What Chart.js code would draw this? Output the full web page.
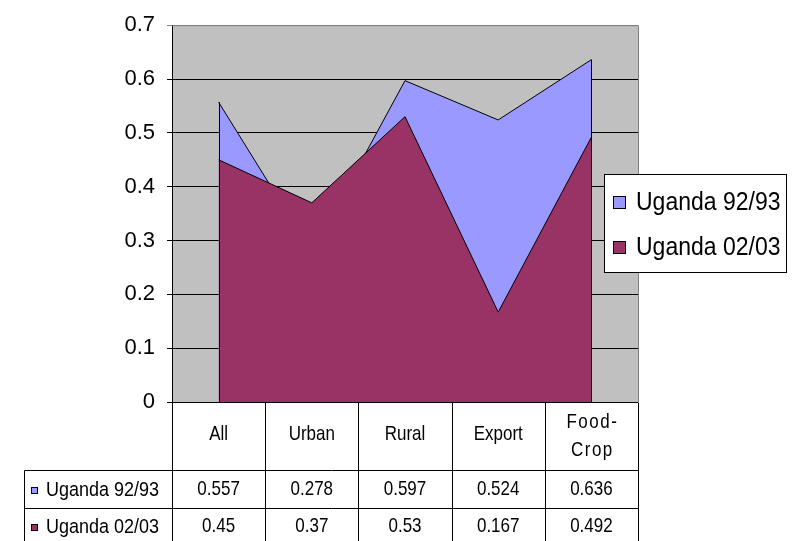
<!DOCTYPE html>
<html>
<head>
<meta charset="utf-8">
<script src="https://cdn.jsdelivr.net/npm/chart.js@4.4.1/dist/chart.umd.min.js"></script>
<style>
  body { margin: 0; background: #fff; }
</style>
</head>
<body>
<canvas id="myChart" width="792" height="541"></canvas>
<script>
const categories = ['All', 'Urban', 'Rural', 'Export', ['Food-', 'Crop']];
const uganda9293 = [0.557, 0.278, 0.597, 0.524, 0.636];
const uganda0203 = [0.45, 0.37, 0.53, 0.167, 0.492];
const seriesNames = ['Uganda 92/93', 'Uganda 02/03'];
const yMin = 0, yMax = 0.7, yStep = 0.1;

const COLORS = {
  blue: '#9999FF',
  maroon: '#993366',
  plot: '#C0C0C0',
  frame: '#808080'
};
const FONT = "'Liberation Sans', Arial, sans-serif";

// excel text comes out a bit taller than it is wide
function tallText(ctx, txt, x, y, stretch) {
  ctx.save();
  ctx.translate(x, y);
  ctx.scale(1, stretch || 1.15);
  ctx.fillText(txt, 0, 0);
  ctx.restore();
}

// grey plot background + grey top/right frame
const plotBg = {
  id: 'plotBg',
  beforeDraw(chart) {
    const ctx = chart.ctx, a = chart.chartArea;
    ctx.save();
    ctx.fillStyle = COLORS.plot;
    ctx.fillRect(a.left, a.top, a.right - a.left, a.bottom - a.top);
    ctx.restore();
  },
  beforeDatasetsDraw(chart) {
    const ctx = chart.ctx, a = chart.chartArea;
    ctx.save();
    ctx.strokeStyle = COLORS.frame;
    ctx.lineWidth = 1;
    ctx.beginPath();
    ctx.moveTo(a.left, a.top + 0.5);
    ctx.lineTo(a.right + 0.5, a.top + 0.5);
    ctx.lineTo(a.right + 0.5, a.bottom);
    ctx.stroke();
    ctx.restore();
  }
};

// the vertical sides of each area, like excel draws them
const areaEdges = {
  id: 'areaEdges',
  afterDatasetDraw(chart, args) {
    const pts = args.meta.data;
    if (!pts.length) return;
    const ctx = chart.ctx;
    const base = chart.scales.y.getPixelForValue(0);
    ctx.save();
    ctx.strokeStyle = '#000';
    ctx.lineWidth = 1;
    [pts[0], pts[pts.length - 1]].forEach(p => {
      const x = Math.round(p.x) + 0.5;
      ctx.beginPath();
      ctx.moveTo(x, p.y);
      ctx.lineTo(x, base);
      ctx.stroke();
    });
    ctx.restore();
  }
};

// data table under the plot
const dataTable = {
  id: 'dataTable',
  afterDraw(chart) {
    const ctx = chart.ctx, a = chart.chartArea, xs = chart.scales.x;
    const half = (xs.getPixelForValue(1) - xs.getPixelForValue(0)) / 2;
    const top = Math.round(a.bottom) + 0.5;
    const row1 = 470.5, row2 = 508.5, bottom = 541, tableLeft = 24.5;
    const right = Math.round(a.right) + 0.5;
    ctx.save();
    ctx.strokeStyle = '#000';
    ctx.lineWidth = 1;
    ctx.beginPath();
    // column lines
    for (let i = 0; i <= categories.length; i++) {
      const x = i < categories.length ? Math.round(xs.getPixelForValue(i) - half) + 0.5 : right;
      ctx.moveTo(x, top);
      ctx.lineTo(x, bottom);
    }
    ctx.moveTo(tableLeft, row1);
    ctx.lineTo(tableLeft, bottom);
    ctx.moveTo(tableLeft, row1);
    ctx.lineTo(right, row1);
    ctx.moveTo(tableLeft, row2);
    ctx.lineTo(right, row2);
    ctx.stroke();

    ctx.fillStyle = '#000';
    ctx.textAlign = 'center';
    ctx.textBaseline = 'middle';
    ctx.font = '17px ' + FONT;
    categories.forEach((c, i) => {
      const x = xs.getPixelForValue(i);
      if (Array.isArray(c)) {
        ctx.letterSpacing = '1.5px';
        tallText(ctx, c[0], x + 1, 423);
        tallText(ctx, c[1], x + 1, 451);
        ctx.letterSpacing = '0px';
      } else {
        tallText(ctx, c, x, 435);
      }
    });
    const rows = [uganda9293, uganda0203];
    const rowMid = [490, 527];
    const swatch = [COLORS.blue, COLORS.maroon];
    rows.forEach((vals, r) => {
      ctx.font = '17px ' + FONT;
      vals.forEach((v, i) => {
        tallText(ctx, String(v), xs.getPixelForValue(i), rowMid[r]);
      });
      ctx.fillStyle = swatch[r];
      ctx.fillRect(31, rowMid[r] - 3, 7, 7);
      ctx.strokeRect(31.5, rowMid[r] - 2.5, 6, 6);
      ctx.fillStyle = '#000';
      ctx.textAlign = 'left';
      ctx.font = '18px ' + FONT;
      tallText(ctx, seriesNames[r], 46, rowMid[r]);
      ctx.textAlign = 'center';
    });
    ctx.restore();
  }
};

// legend box sitting over the right edge of the plot
const boxLegend = {
  id: 'boxLegend',
  afterDraw(chart) {
    const ctx = chart.ctx;
    ctx.save();
    ctx.fillStyle = '#fff';
    ctx.fillRect(604, 174, 182, 98);
    ctx.strokeStyle = '#000';
    ctx.lineWidth = 1;
    ctx.strokeRect(604.5, 174.5, 182, 98);
    const ys = [202, 247];
    const fills = [COLORS.blue, COLORS.maroon];
    ctx.font = '23px ' + FONT;
    ctx.textBaseline = 'middle';
    seriesNames.forEach((name, i) => {
      ctx.fillStyle = fills[i];
      ctx.fillRect(613, ys[i] - 6, 13, 13);
      ctx.strokeRect(613.5, ys[i] - 5.5, 12, 12);
      ctx.fillStyle = '#000';
      tallText(ctx, name, 636, ys[i] + 1, 1.12);
    });
    ctx.restore();
  }
};

const data = {
  labels: categories,
  datasets: [
    {
      label: seriesNames[0],
      data: uganda9293,
      backgroundColor: COLORS.blue,
      borderColor: '#000',
      borderWidth: 1,
      fill: 'origin',
      pointRadius: 0,
      tension: 0,
      order: 1
    },
    {
      label: seriesNames[1],
      data: uganda0203,
      backgroundColor: COLORS.maroon,
      borderColor: '#000',
      borderWidth: 1,
      fill: 'origin',
      pointRadius: 0,
      tension: 0,
      order: 0
    }
  ]
};

const config = {
  type: 'line',
  data: data,
  options: {
    responsive: false,
    animation: false,
    layout: {
      padding: { top: 23, right: 154, bottom: 139, left: 0 }
    },
    plugins: {
      legend: { display: false },
      tooltip: { enabled: false }
    },
    scales: {
      x: {
        type: 'category',
        offset: true,
        display: false
      },
      y: {
        min: yMin,
        max: yMax,
        afterFit(scale) { scale.width = 172; },
        ticks: {
          stepSize: yStep,
          color: '#000',
          padding: 12,
          font: { family: FONT, size: 22 }
        },
        grid: {
          color: c => (c.tick && c.tick.value >= yMax - 1e-9) ? COLORS.frame : '#000',
          lineWidth: 1,
          tickLength: 5
        },
        border: { color: '#000', width: 1 }
      }
    }
  },
  plugins: [plotBg, areaEdges, dataTable, boxLegend]
};

const myChart = new Chart(document.getElementById('myChart'), config);
</script>
</body>
</html>
